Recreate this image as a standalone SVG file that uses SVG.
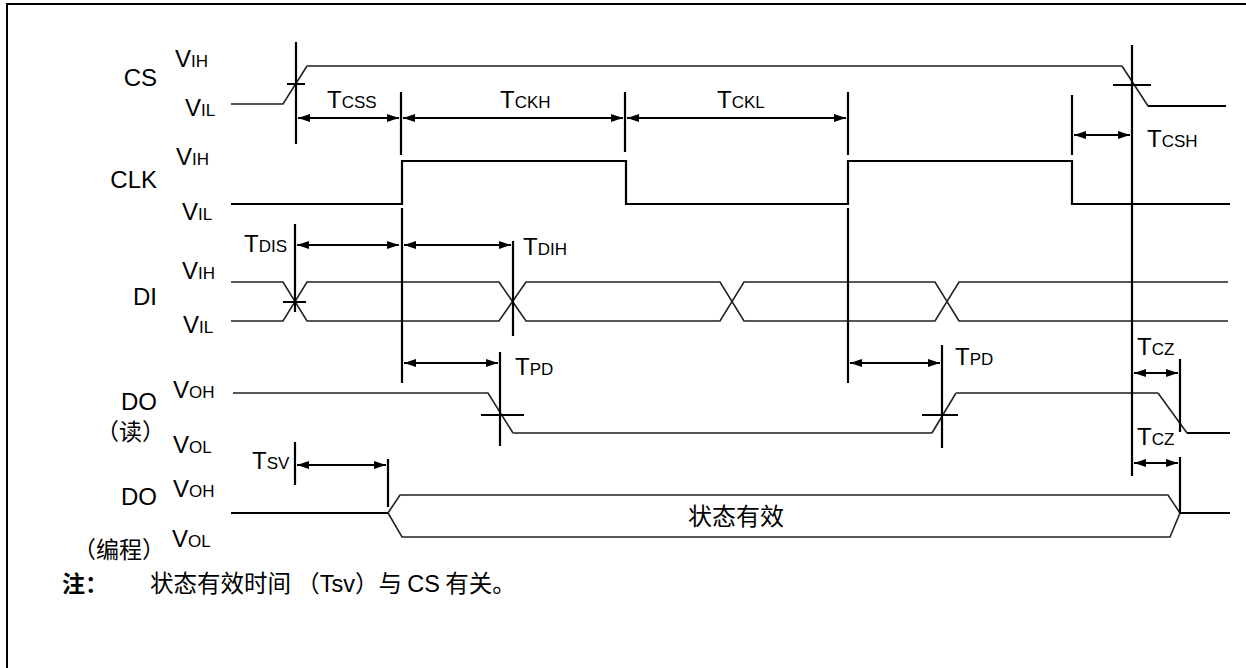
<svg xmlns="http://www.w3.org/2000/svg" width="1246" height="668" viewBox="0 0 1246 668">
<defs>
<marker id="ah" markerUnits="userSpaceOnUse" markerWidth="13" markerHeight="9" refX="12" refY="4.5" orient="auto-start-reverse">
<path d="M0,0.5 L12,4.5 L0,8.5 z" fill="#000"/>
</marker>
<style>
.frame{fill:none;stroke:#000;stroke-width:2}
.wave{fill:none;stroke:#222;stroke-width:1.6;stroke-linejoin:miter}
.grey{fill:none;stroke:#555;stroke-width:2}
.thick{fill:none;stroke:#000;stroke-width:2.2}
.guide{fill:none;stroke:#000;stroke-width:2.2}
.dim{fill:none;stroke:#000;stroke-width:2;marker-start:url(#ah);marker-end:url(#ah)}
text{font-family:"Liberation Sans",Arial,"Noto Sans CJK SC",sans-serif;fill:#000}
.name{font-size:24px;text-anchor:end}
.lv{font-size:24px}
.sub{font-size:17px}
.cjk{font-family:"Noto Sans CJK SC",sans-serif}
</style>
</defs>
<rect width="1246" height="668" fill="#fff"/>
<path class="frame" d="M7,668 V4 H1246"/>

<g id="cs">
<polyline class="wave" points="231,104 283,104 307,66"/>
<polyline class="grey" points="307,66 1122,66"/>
<polyline class="wave" points="1122,66 1148,106"/>
<polyline class="thick" points="1148,106 1226,106"/>
<text class="name" x="157" y="86">CS</text>
<text class="lv" x="175" y="67">V<tspan class="sub">IH</tspan></text>
<text class="lv" x="185" y="116">V<tspan class="sub">IL</tspan></text>
</g>

<g id="clk">
<polyline class="thick" points="231,204 402,204 402,161 626,161 626,204 848,204 848,161 1072,161 1072,204 1230,204"/>
<text class="name" x="157" y="188">CLK</text>
<text class="lv" x="176" y="165">V<tspan class="sub">IH</tspan></text>
<text class="lv" x="182" y="220">V<tspan class="sub">IL</tspan></text>
</g>

<g id="di">
<polyline class="wave" points="231,282 283,282 307,321 499,321 526,282 720,282 744,321 935,321 959,282 1228,282"/>
<polyline class="wave" points="231,321 283,321 307,282 499,282 526,321 720,321 744,282 935,282 959,321 1228,321"/>
<text class="name" x="157" y="305">DI</text>
<text class="lv" x="182" y="279">V<tspan class="sub">IH</tspan></text>
<text class="lv" x="183" y="333">V<tspan class="sub">IL</tspan></text>
</g>

<g id="do-read">
<polyline class="wave" points="233,393 488,393 513,433"/>
<polyline class="grey" points="513,433 932,433"/>
<polyline class="wave" points="932,433 956,393"/>
<polyline class="grey" points="956,393 1158,393"/>
<polyline class="wave" points="1158,393 1187,433"/>
<polyline class="thick" points="1187,433 1230,433"/>
<text class="name" x="157" y="410">DO</text>
<text class="cjk" x="165" y="440" font-size="23" text-anchor="end">（读）</text>
<text class="lv" x="173" y="398">V<tspan class="sub">OH</tspan></text>
<text class="lv" x="173" y="453">V<tspan class="sub">OL</tspan></text>
</g>

<g id="do-prog">
<polyline class="thick" points="231,513 388,513"/>
<polygon class="wave" points="388,513 400,495 1168,495 1180,513 1170,537 402,537"/>
<polyline class="thick" points="1180,513 1230,513"/>
<text class="cjk" x="736" y="525" font-size="24" text-anchor="middle">状态有效</text>
<text class="name" x="157" y="505">DO</text>
<text class="cjk" x="165" y="558" font-size="23" text-anchor="end">（编程）</text>
<text class="lv" x="173" y="497">V<tspan class="sub">OH</tspan></text>
<text class="lv" x="172" y="547">V<tspan class="sub">OL</tspan></text>
</g>

<g id="connectors">
<path class="guide" d="M296,42 V144 M287,84 H305"/>
<path class="guide" d="M1132,45 V476 M1113,85 H1151"/>
<path class="guide" d="M401,92 V155 M402,208 V383"/>
<path class="guide" d="M625,92 V152"/>
<path class="guide" d="M848,92 V155 M848,208 V383"/>
<path class="guide" d="M1072,95 V155"/>
<path class="guide" d="M295,224 V312 M283,302 H306"/>
<path class="guide" d="M513,241 V336"/>
<path class="guide" d="M500,352 V446 M481,415 H524"/>
<path class="guide" d="M942,345 V448 M922,415 H958"/>
<path class="guide" d="M1180,359 V432 M1180,457 V513"/>
<path class="guide" d="M295,442 V485 M388,459 V507"/>
<line class="dim" x1="298" y1="118" x2="399" y2="118"/>
<line class="dim" x1="403" y1="118" x2="623" y2="118"/>
<line class="dim" x1="627" y1="118" x2="846" y2="118"/>
<line class="dim" x1="1074" y1="135" x2="1130" y2="135"/>
<line class="dim" x1="297" y1="245" x2="399" y2="245"/>
<line class="dim" x1="404" y1="245" x2="511" y2="245"/>
<line class="dim" x1="404" y1="363" x2="498" y2="363"/>
<line class="dim" x1="850" y1="363" x2="940" y2="363"/>
<line class="dim" x1="1134" y1="373" x2="1178" y2="373"/>
<line class="dim" x1="1134" y1="463" x2="1178" y2="463"/>
<line class="dim" x1="297" y1="465" x2="386" y2="465"/>
</g>

<g id="timing-labels">
<text class="lv" x="327" y="108">T<tspan class="sub">CSS</tspan></text>
<text class="lv" x="500" y="108">T<tspan class="sub">CKH</tspan></text>
<text class="lv" x="717" y="108">T<tspan class="sub">CKL</tspan></text>
<text class="lv" x="1147" y="147">T<tspan class="sub">CSH</tspan></text>
<text class="lv" x="244" y="252">T<tspan class="sub">DIS</tspan></text>
<text class="lv" x="523" y="255">T<tspan class="sub">DIH</tspan></text>
<text class="lv" x="515" y="375">T<tspan class="sub">PD</tspan></text>
<text class="lv" x="955" y="365">T<tspan class="sub">PD</tspan></text>
<text class="lv" x="1137" y="355">T<tspan class="sub">CZ</tspan></text>
<text class="lv" x="1137" y="445">T<tspan class="sub">CZ</tspan></text>
<text class="lv" x="252" y="469">T<tspan class="sub">SV</tspan></text>
</g>

<g id="note">
<text x="62" y="592" font-size="23" font-weight="bold" class="cjk">注：</text>
<text x="150" y="592" font-size="23.5"><tspan class="cjk">状态有效时间 （</tspan>Tsv<tspan class="cjk">）与 </tspan>CS<tspan class="cjk"> 有关。</tspan></text>
</g>
</svg>
